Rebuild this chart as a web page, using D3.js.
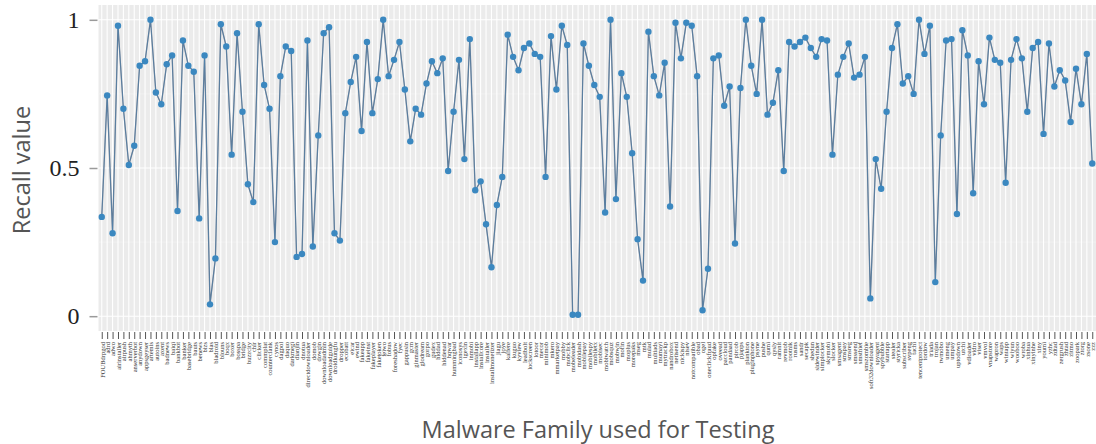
<!DOCTYPE html>
<html>
<head>
<meta charset="utf-8">
<script src="https://cdn.jsdelivr.net/npm/d3@7"></script>
<style>
  body { margin: 0; background: #fff; }
</style>
</head>
<body>
<svg id="viz" width="1096" height="444"></svg>
<script>
// malware families, in the order of the x axis
var families = [
  "FOUBdrpgod","adrd","adwo","airinstaller","airpush","ahmyth","anserverbot","anydown","appsgeyser","artemis",
  "autoins","axent","badnews","baiqi","bankbot","banker","basebridge","bauts","benews","bizs",
  "blas","bladroid","blouns","boqx","boxer","bosspa","bridge","buzzcity","chir","clicker",
  "commplat","counterclank","cynos","dagpol","daquo","darkmegi","dianjin","dnotua","directdownloader","domob",
  "dowgin","downloadadmin","downloadguide","droidkungfu","dropper","ecobatt","eicar","ewind","fakeapp","fakeinst",
  "fakeplayer","faketoken","feiwo","fobus","foreshadow","fyec","gappusin","gcm","ginmaster","glodream",
  "gorpo","gudex","hiddad","hiddenad","hqwar","hummingbad","iconosys","igexin","inmobi","installapp",
  "installcore","installer","installmonetizer","jiagu","joye","kalfere","kuguo","kyview","leadbolt","lockscreen",
  "lotoor","mecor","minimob","mkero","mmarketpay","mobby","mobclick","mobeleader","mobidash","mobilepay",
  "mobilespy","mobiletx","mobisec","mobiwatch","mobsquz","mobwin","mofin","moplus","morepaks","mseg",
  "mtk","mulad","multiads","mumayi","mytrackp","nandrobox","netisend","nickispy","nisev","notcompatible",
  "obad","ogel","oneclickfraud","opfake","oveead","paccloud","pandaad","pircob","pjapps","plankton",
  "pluginphone","psyne","pushe","qumi","qysly","ramnit","revmob","rootnik","rusms","sandr",
  "secapk","shedun","sidewinder","simplocker","skymobi","slocker","smsagent","smspay","smsreg","smssend",
  "smsthief","smszombie","soft32downloader","spyagent","spybubble","startapp","stealer","styricka","subscriber","svpeng",
  "tachi","tencentprotect","tordow","triada","trojan","twmobo","umeng","umpay","uptodown","utchi",
  "vdloader","vidro","viser","vmvol","vnapstore","wapron","waps","wintapp","wiyun","wooboo",
  "wroba","xinhua","xinyinhe","xiny","youmi","yzhc","zdtad","zergrush","zhtad","zitmo",
  "zoopark","ztorg","zsone","zzz"
];

// recall per family
var recall = [
  0.335,0.745,0.28,0.98,0.70,0.51,0.575,0.845,0.86,1.0,
  0.755,0.715,0.85,0.88,0.355,0.93,0.845,0.825,0.33,0.88,
  0.04,0.195,0.985,0.91,0.545,0.955,0.69,0.445,0.385,0.985,
  0.78,0.70,0.25,0.81,0.91,0.895,0.20,0.21,0.93,0.235,
  0.61,0.955,0.975,0.28,0.255,0.685,0.79,0.875,0.625,0.925,
  0.685,0.80,1.0,0.81,0.865,0.925,0.765,0.59,0.70,0.68,
  0.785,0.86,0.82,0.87,0.49,0.69,0.865,0.53,0.935,0.425,
  0.455,0.31,0.165,0.375,0.47,0.95,0.875,0.83,0.905,0.92,
  0.885,0.875,0.47,0.945,0.765,0.98,0.915,0.005,0.005,0.92,
  0.845,0.78,0.74,0.35,1.0,0.395,0.82,0.74,0.55,0.26,
  0.12,0.96,0.81,0.745,0.855,0.37,0.99,0.87,0.99,0.98,
  0.81,0.02,0.16,0.87,0.88,0.71,0.775,0.245,0.77,1.0,
  0.845,0.75,1.0,0.68,0.72,0.83,0.49,0.925,0.91,0.925,
  0.94,0.905,0.875,0.935,0.93,0.545,0.815,0.875,0.92,0.805,
  0.815,0.875,0.06,0.53,0.43,0.69,0.905,0.985,0.785,0.81,
  0.75,1.0,0.885,0.98,0.115,0.61,0.93,0.935,0.345,0.965,
  0.88,0.415,0.86,0.715,0.94,0.865,0.855,0.45,0.865,0.935,
  0.87,0.69,0.905,0.925,0.615,0.92,0.775,0.83,0.795,0.655,
  0.835,0.715,0.885,0.515
];

var yTicks = [0, 0.5, 1];
var yMinor = [0.25, 0.75];

var panel = {left: 98.5, right: 1095.5, top: 5, bottom: 331};

var data = families.map(function(f, i){ return {name: f, value: recall[i]}; });

var svg = d3.select("#viz");

var x = d3.scalePoint()
  .domain(families)
  .range([panel.left, panel.right])
  .padding(0.6);
var y = d3.scaleLinear()
  .domain([-0.05, 1.05])
  .range([panel.bottom, panel.top]);

// panel
svg.append("rect")
  .attr("x", panel.left).attr("y", panel.top)
  .attr("width", 1096 - panel.left)
  .attr("height", panel.bottom - panel.top)
  .attr("fill", "#ebebeb");

var grid = svg.append("g");
grid.selectAll(".minor").data(yMinor).enter().append("line")
  .attr("x1", panel.left).attr("x2", 1096)
  .attr("y1", function(d){ return y(d); }).attr("y2", function(d){ return y(d); })
  .attr("stroke", "#f5f5f5").attr("stroke-width", 0.6);
grid.selectAll(".vx").data(families).enter().append("line")
  .attr("x1", function(d){ return x(d); }).attr("x2", function(d){ return x(d); })
  .attr("y1", panel.top).attr("y2", panel.bottom)
  .attr("stroke", "#fff").attr("stroke-width", 1.1);
grid.selectAll(".major").data(yTicks).enter().append("line")
  .attr("x1", panel.left).attr("x2", 1096)
  .attr("y1", function(d){ return y(d); }).attr("y2", function(d){ return y(d); })
  .attr("stroke", "#fff").attr("stroke-width", 1.1);

// line + points
var line = d3.line()
  .x(function(d){ return x(d.name); })
  .y(function(d){ return y(d.value); });

svg.append("path")
  .datum(data)
  .attr("d", line)
  .attr("fill", "none")
  .attr("stroke", "#707a8c")
  .attr("stroke-width", 1.3);

svg.append("path")
  .datum(data)
  .attr("d", line)
  .attr("fill", "none")
  .attr("stroke", "#3a86c0")
  .attr("stroke-width", 0.6)
  .attr("opacity", 0.7);

svg.selectAll(".pt").data(data).enter().append("circle")
  .attr("cx", function(d){ return x(d.name); })
  .attr("cy", function(d){ return y(d.value); })
  .attr("r", 3.2)
  .attr("fill", "#3b88c0");

// y axis
var yAxis = d3.axisLeft(y)
  .tickValues(yTicks)
  .tickFormat(function(d){ return d === 0.5 ? "0.5" : d3.format("d")(d); })
  .tickSize(8)
  .tickPadding(10);
var gy = svg.append("g")
  .attr("transform", "translate(" + (panel.left - 1) + ",0)")
  .call(yAxis);
gy.select(".domain").remove();
gy.selectAll(".tick line").attr("stroke", "#9a9a9a").attr("stroke-width", 1.5);
gy.selectAll(".tick text")
  .attr("fill", "#222")
  .style("font-family", "'Liberation Serif', serif")
  .style("font-size", "24px");

// x axis
var xAxis = d3.axisBottom(x)
  .tickSize(7)
  .tickPadding(3);
var gx = svg.append("g")
  .attr("transform", "translate(0," + (panel.bottom + 1) + ")")
  .call(xAxis);
gx.select(".domain").remove();
gx.selectAll(".tick line").attr("stroke", "#555").attr("stroke-width", 1);
gx.selectAll(".tick text")
  .attr("fill", "#333")
  .style("font-family", "'Liberation Serif', serif")
  .style("font-size", "6.5px")
  .attr("text-anchor", "end")
  .attr("dy", "0.35em")
  .attr("transform", "rotate(-90)")
  .attr("x", -10)
  .attr("y", 0);

// titles
svg.append("text")
  .attr("x", 598).attr("y", 438)
  .attr("text-anchor", "middle")
  .attr("fill", "#555")
  .style("font-family", "'Open Sans', sans-serif")
  .style("font-size", "23.5px")
  .text("Malware Family used for Testing");

svg.append("text")
  .attr("transform", "translate(30,170) rotate(-90)")
  .attr("text-anchor", "middle")
  .attr("fill", "#555")
  .style("font-family", "'Open Sans', sans-serif")
  .style("font-size", "23.5px")
  .text("Recall value");
</script>
</body>
</html>
